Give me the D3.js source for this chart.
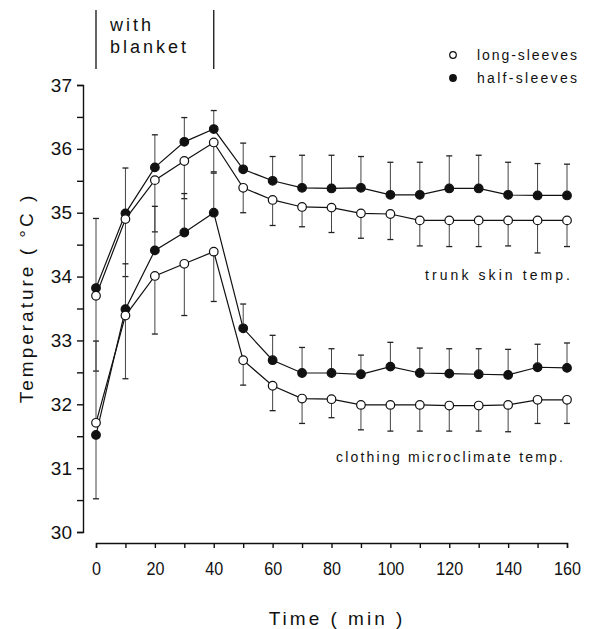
<!DOCTYPE html>
<html>
<head>
<meta charset="utf-8">
<script src="https://cdn.jsdelivr.net/npm/d3@7"></script>
<style>
  body { margin: 0; background: #fff; }
  svg text { font-family: "Liberation Sans", Arial, sans-serif; fill: #111; }
</style>
</head>
<body>
<svg id="chart" width="590" height="629"></svg>
<script>
// time points (min)
const times = [0, 10, 20, 30, 40, 50, 60, 70, 80, 90, 100, 110, 120, 130, 140, 150, 160];

// trunk skin temp, half-sleeves (filled) and its error bar end
const trunkHalf    = [33.82, 34.99, 35.71, 36.11, 36.31, 35.68, 35.50, 35.39, 35.38, 35.39, 35.28, 35.28, 35.38, 35.38, 35.28, 35.27, 35.27];
const trunkHalfErr = [34.91, 35.70, 36.22, 36.49, 36.60, 36.09, 35.88, 35.90, 35.90, 35.88, 35.79, 35.79, 35.89, 35.90, 35.79, 35.77, 35.76];

// trunk skin temp, long-sleeves (open)
const trunkLong    = [33.70, 34.90, 35.51, 35.81, 36.10, 35.39, 35.20, 35.09, 35.08, 34.99, 34.98, 34.88, 34.88, 34.88, 34.88, 34.88, 34.88];
const trunkLongErr = [32.52, 34.00, 34.70, 35.22, 35.64, 35.00, 34.80, 34.78, 34.69, 34.60, 34.58, 34.48, 34.47, 34.47, 34.48, 34.37, 34.47];

// clothing microclimate temp, half-sleeves (filled)
const clothHalf    = [31.52, 33.49, 34.41, 34.69, 35.00, 33.19, 32.69, 32.49, 32.49, 32.47, 32.59, 32.49, 32.48, 32.47, 32.46, 32.58, 32.57];
const clothHalfErr = [30.52, 34.20, 35.10, 35.30, 35.62, 33.57, 33.08, 32.89, 32.87, 32.77, 32.97, 32.88, 32.87, 32.87, 32.86, 32.94, 32.96];

// clothing microclimate temp, long-sleeves (open)
const clothLong    = [31.71, 33.39, 34.01, 34.20, 34.39, 32.69, 32.29, 32.09, 32.08, 31.99, 31.99, 31.99, 31.98, 31.98, 31.99, 32.07, 32.07];
const clothLongErr = [32.99, 32.40, 33.10, 33.39, 33.61, 32.30, 31.90, 31.70, 31.79, 31.60, 31.58, 31.58, 31.58, 31.58, 31.57, 31.70, 31.70];

const yTicks = d3.range(30, 37.01, 0.5);
const xTicks = d3.range(0, 161, 10);

const svg = d3.select("#chart");

const x = d3.scaleLinear().domain([0, 160]).range([96, 567]);
const y = d3.scaleLinear().domain([30, 37]).range([532, 85]);

// axes
const yAxis = svg.append("g")
  .attr("transform", "translate(83,0)")
  .call(d3.axisLeft(y).tickValues(yTicks).tickSizeOuter(0).tickSize(6).tickPadding(5)
    .tickFormat(d => Number.isInteger(d) ? d : ""));
yAxis.selectAll("text").attr("font-size", 19);
yAxis.selectAll("line,path").attr("stroke", "#111").attr("stroke-width", 1.4);

const xAxis = svg.append("g")
  .attr("transform", "translate(0,543)")
  .call(d3.axisBottom(x).tickValues(xTicks).tickSizeOuter(0).tickSize(5).tickPadding(14)
    .tickFormat(d => d % 20 === 0 ? d : ""));
// tick labels in the reference are narrow, so squeeze them horizontally
xAxis.selectAll("text").attr("font-size", 19).attr("transform", "scale(0.85,1)");
xAxis.selectAll("line,path").attr("stroke", "#111").attr("stroke-width", 1.4);

// axis titles
svg.append("text")
  .attr("x", 337).attr("y", 625)
  .attr("text-anchor", "middle")
  .attr("font-size", 19).attr("letter-spacing", 3)
  .text("Time ( min )");

svg.append("text")
  .attr("transform", "translate(33,298) rotate(-90)")
  .attr("text-anchor", "middle")
  .attr("font-size", 19).attr("letter-spacing", 3)
  .text("Temperature ( °C )");

// "with blanket" bracket
[0, 40].forEach(t => {
  svg.append("line")
    .attr("x1", x(t)).attr("x2", x(t)).attr("y1", 10).attr("y2", 69)
    .attr("stroke", "#111").attr("stroke-width", 1.3);
});
svg.append("text").attr("x", 110).attr("y", 31).attr("font-size", 18).attr("letter-spacing", 3).text("with");
svg.append("text").attr("x", 110).attr("y", 53).attr("font-size", 18).attr("letter-spacing", 3).text("blanket");

// series
const series = [
  {vals: trunkHalf, err: trunkHalfErr, filled: true},
  {vals: trunkLong, err: trunkLongErr, filled: false},
  {vals: clothHalf, err: clothHalfErr, filled: true},
  {vals: clothLong, err: clothLongErr, filled: false}
];

const line = d3.line().x((d, i) => x(times[i])).y(d => y(d));

const gErr = svg.append("g");
const gLines = svg.append("g");
const gPts = svg.append("g");

series.forEach(s => {
  gErr.selectAll(null)
    .data(s.vals)
    .join("g")
    .each(function(v, i) {
      const g = d3.select(this);
      const cx = x(times[i]);
      g.append("line")
        .attr("x1", cx).attr("x2", cx)
        .attr("y1", y(v)).attr("y2", y(s.err[i]))
        .attr("stroke", "#444").attr("stroke-width", 1);
      g.append("line")
        .attr("x1", cx - 3).attr("x2", cx + 3)
        .attr("y1", y(s.err[i])).attr("y2", y(s.err[i]))
        .attr("stroke", "#222").attr("stroke-width", 1.3);
    });

  gLines.append("path")
    .datum(s.vals)
    .attr("d", line)
    .attr("fill", "none")
    .attr("stroke", "#111")
    .attr("stroke-width", 1.2);

  gPts.selectAll(null)
    .data(s.vals)
    .join("circle")
    .attr("cx", (d, i) => x(times[i]))
    .attr("cy", d => y(d))
    .attr("r", 4.3)
    .attr("fill", s.filled ? "#111" : "#fff")
    .attr("stroke", "#111")
    .attr("stroke-width", 1.2);
});

// legend
const legend = [
  {label: "long-sleeves", filled: false},
  {label: "half-sleeves", filled: true}
];
const lg = svg.selectAll("g.legend")
  .data(legend)
  .join("g")
  .attr("class", "legend")
  .attr("transform", (d, i) => `translate(453,${55 + i * 23})`);
lg.append("circle")
  .attr("r", 3.3)
  .attr("fill", d => d.filled ? "#111" : "#fff")
  .attr("stroke", "#111").attr("stroke-width", 1.2);
lg.append("text")
  .attr("x", 24).attr("y", 5)
  .attr("font-size", 14)
  .attr("textLength", 100).attr("lengthAdjust", "spacing")
  .text(d => d.label);

// annotations
svg.append("text")
  .attr("x", 425).attr("y", 280)
  .attr("font-size", 14)
  .attr("textLength", 145).attr("lengthAdjust", "spacing")
  .text("trunk skin temp.");
svg.append("text")
  .attr("x", 336).attr("y", 462)
  .attr("font-size", 14)
  .attr("textLength", 227).attr("lengthAdjust", "spacing")
  .text("clothing microclimate temp.");
</script>
</body>
</html>
